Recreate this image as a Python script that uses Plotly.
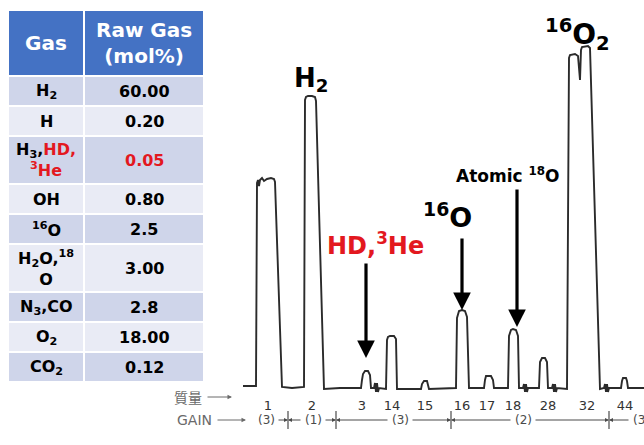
import plotly.graph_objects as go

RED = "#e3181f"
INK = "#2b2b2b"
PRINT = "#4a4a4a"

# ---- raw gas composition table ----
table_header = ["Gas", "Raw Gas<br>(mol%)"]
gas_species = [
    "H<sub>2</sub>",
    "H",
    f"H<sub>3</sub>,<span style='color:{RED}'>HD,</span><br><span style='color:{RED}'><sup>3</sup>He</span>",
    "OH",
    "<sup>16</sup>O",
    "H<sub>2</sub>O,<sup>18</sup><br>O",
    "N<sub>3</sub>,CO",
    "O<sub>2</sub>",
    "CO<sub>2</sub>",
]
raw_gas_mol_pct = ["60.00", "0.20", "0.05", "0.80", "2.5", "3.00", "2.8", "18.00", "0.12"]
highlighted = [False, False, True, False, False, False, False, False, False]

# ---- recorder trace: position along the chart paper vs. pen deflection ----
trace_pos = [
    3, 15, 16, 17, 18, 19, 20, 22, 24, 27, 31, 34, 35, 42,
    52, 64, 65, 66, 68, 72, 75, 76, 84,
    100, 121, 122, 123, 125, 128, 130, 131,
    134, 135, 136, 137, 138, 139, 146,
    147, 148, 150, 154, 156, 157,
    181, 182, 184, 187, 188, 189,
    216, 217, 219, 222, 225, 227, 229,
    244, 245, 246, 251, 253, 254,
    268, 269, 271, 273, 276, 278, 279,
    283, 284, 285, 286, 287, 288, 299,
    300, 302, 305, 307, 308,
    312, 313, 314, 315, 316, 317, 327,
    329, 330, 335, 338, 339, 340, 341, 342, 348, 350, 360,
    364, 365, 366, 367, 368, 369, 381,
    382, 383, 386, 387, 388, 404,
]
trace_signal = [
    2, 2, 2, 205, 208, 202, 208, 210, 207, 209, 210, 209, 206, 1,
    0, 1, 288, 291, 292, 292, 291, 287, -1,
    0, 0, 8, 14, 17, 17, 13, 0,
    0, 5, -4, 5, -4, 0, -1,
    48, 51, 52, 52, 49, -1,
    -1, 4, 7, 7, 4, -1,
    0, 70, 77, 78, 77, 71, 0,
    0, 8, 12, 12, 8, 0,
    0, 52, 58, 59, 58, 52, 0,
    0, 4, -4, 4, -4, 0, 0,
    26, 30, 30, 26, 0,
    0, 4, -4, 4, -4, 0, -1,
    330, 333, 334, 332, 313, 308, 338, 341, 342, 340, -1,
    0, 4, -4, 4, -4, 0, 0,
    7, 10, 10, 7, 0, 0,
]

# mass numbers printed under the peaks
mass_labels = ["1", "2", "3", "14", "15", "16", "17", "18", "28", "32", "44"]
mass_pos = [28, 72, 122, 152, 185, 222, 247, 273, 308, 347, 385]

# amplifier gain ranges along the chart
gain_breaks = [48, 96, 211, 369]
gain_values = ["(3)", "(1)", "(3)", "(2)", "(3)"]
gain_label_pos = [26, 73, 160, 283, 401]
gain_span_start = [5, 48, 96, 211, 369]
gain_span_end = [48, 96, 211, 369, 420]

# peak callouts
callout_text = [
    "H<sub>2</sub>",
    "<sup>16</sup>O<sub>2</sub>",
    "<sup>16</sup>O",
    "HD,<sup>3</sup>He",
    "Atomic <sup>18</sup>O",
]
callout_x = [71, 337, 207, 135, 268]
callout_y = [309, 354, 173, 144, 213]
callout_color = ["black", "black", "black", RED, "black"]
callout_size = [26, 28, 27, 24, 17]

arrow_x = [126, 222, 277]
arrow_tail = [126, 151, 200]
arrow_tip = [30, 78, 61]

W, H = 644, 445
BOLD = "DejaVu Sans"

fig = go.Figure()

# recorder chart
fig.add_trace(go.Scatter(
    x=trace_pos, y=trace_signal, mode="lines",
    line=dict(color=INK, width=1.9),
    hoverinfo="skip", showlegend=False,
))

shapes = []
annotations = []

# ---- table drawn on its own axes (x in column units, y in row units) ----
col_edges = [0, 76, 196]
header_units = 2.2
row_units = [1 + 0.6 * s.count("<br>") for s in gas_species]
total_units = header_units + sum(row_units)
dark_row, light_row = "#cfd5ea", "#e9ebf5"

fig.add_trace(go.Scatter(x=[0, 196], y=[0, total_units], xaxis="x2", yaxis="y2",
                         mode="markers", marker=dict(opacity=0), hoverinfo="skip",
                         showlegend=False))

def cell(x0, x1, y0, y1, fill):
    shapes.append(dict(type="rect", xref="x2", yref="y2", x0=x0, x1=x1, y0=y0, y1=y1,
                       fillcolor=fill, line=dict(color="white", width=2), layer="below"))

for c, label in enumerate(table_header):
    x0, x1 = col_edges[c], col_edges[c + 1]
    cell(x0, x1, 0, header_units, "#4472c4")
    annotations.append(dict(x=(x0 + x1) / 2, y=header_units / 2, xref="x2", yref="y2",
                            text=label, showarrow=False, xanchor="center", yanchor="middle",
                            font=dict(family=BOLD, size=20, color="white", weight="bold")))

y_top = header_units
for i, (gas, val, hl, ru) in enumerate(zip(gas_species, raw_gas_mol_pct, highlighted, row_units)):
    fill = dark_row if i % 2 == 0 else light_row
    y_bot = y_top + ru
    for c, (txt, color) in enumerate([(gas, "black"), (val, RED if hl else "black")]):
        x0, x1 = col_edges[c], col_edges[c + 1]
        cell(x0, x1, y_top, y_bot, fill)
        annotations.append(dict(x=(x0 + x1) / 2, y=(y_top + y_bot) / 2, xref="x2", yref="y2",
                                text=txt, showarrow=False, xanchor="center", yanchor="middle",
                                font=dict(family=BOLD, size=16, color=color, weight="bold")))
    y_top = y_bot

# ---- peak callouts ----
for t, x, y, c, s in zip(callout_text, callout_x, callout_y, callout_color, callout_size):
    annotations.append(dict(
        x=x, y=y, xref="x", yref="y", text=t, showarrow=False,
        font=dict(family=BOLD, size=s, color=c, weight="bold"),
    ))
for x, tail, tip in zip(arrow_x, arrow_tail, arrow_tip):
    annotations.append(dict(
        x=x, y=tip, ax=x, ay=tail, xref="x", yref="y", axref="x", ayref="y",
        text="", showarrow=True, arrowhead=2, arrowsize=1.1, arrowwidth=3.2,
        arrowcolor="black", standoff=0,
    ))

# ---- row captions at the foot of the chart ----
gain_y = (H - 420) / H
mass_y = (H - 397) / H
for txt, cx, yy, fam, x_tip, length in [
    ("質量", 188, mass_y, "Noto Sans CJK JP", 232, 26),
    ("GAIN", 194, gain_y, "DejaVu Sans", 246, 30),
]:
    annotations.append(dict(
        x=cx / W, y=yy, xref="paper", yref="paper", text=txt, showarrow=False,
        xanchor="center", yanchor="middle",
        font=dict(family=fam, size=14, color="#6a6a6a"),
    ))
    annotations.append(dict(
        x=x_tip / W, y=yy, xref="paper", yref="paper", ax=-length, ay=0,
        text="", showarrow=True, arrowhead=2, arrowsize=0.9, arrowwidth=1,
        arrowcolor="#6a6a6a", standoff=0,
    ))

# gain range labels with arrows running out to the range boundaries
for g, cx, s0, s1 in zip(gain_values, gain_label_pos, gain_span_start, gain_span_end):
    annotations.append(dict(
        x=cx, y=gain_y, xref="x", yref="paper", text=g, showarrow=False,
        xanchor="center", yanchor="middle",
        font=dict(family="DejaVu Sans", size=12, color=PRINT),
    ))
    if s1 in gain_breaks:
        annotations.append(dict(
            x=s1, y=gain_y, xref="x", yref="paper", ax=cx + 11, ay=0, axref="x",
            text="", showarrow=True, arrowhead=2, arrowsize=0.8, arrowwidth=1,
            arrowcolor=PRINT, standoff=0,
        ))
    if s0 in gain_breaks:
        annotations.append(dict(
            x=s0, y=gain_y, xref="x", yref="paper", ax=cx - 11, ay=0, axref="x",
            text="", showarrow=True, arrowhead=2, arrowsize=0.8, arrowwidth=1,
            arrowcolor=PRINT, standoff=0,
        ))

shapes += [
    dict(type="line", xref="x", yref="paper", x0=b, x1=b,
         y0=(H - 429) / H, y1=(H - 411) / H, line=dict(color=PRINT, width=1.2))
    for b in gain_breaks
]

fig.update_layout(
    width=W, height=H,
    margin=dict(l=0, r=0, t=0, b=0),
    paper_bgcolor="white", plot_bgcolor="rgba(0,0,0,0)",
    xaxis=dict(
        domain=[240 / W, 1], range=[0, 404],
        showgrid=False, zeroline=False, showline=False, ticks="",
        tickvals=mass_pos, ticktext=mass_labels,
        tickfont=dict(family="DejaVu Sans", size=13, color="#333333"),
    ),
    yaxis=dict(
        domain=[49 / H, 1], range=[-8, 388],
        showgrid=False, zeroline=False, showline=False, showticklabels=False, ticks="",
    ),
    xaxis2=dict(domain=[8 / W, 204 / W], range=[0, 196], anchor="y2",
                visible=False, fixedrange=True),
    yaxis2=dict(domain=[63 / H, 435 / H], range=[total_units, 0], anchor="x2",
                visible=False, fixedrange=True),
    annotations=annotations,
    shapes=shapes,
    showlegend=False,
)

fig.write_html("out.html")
